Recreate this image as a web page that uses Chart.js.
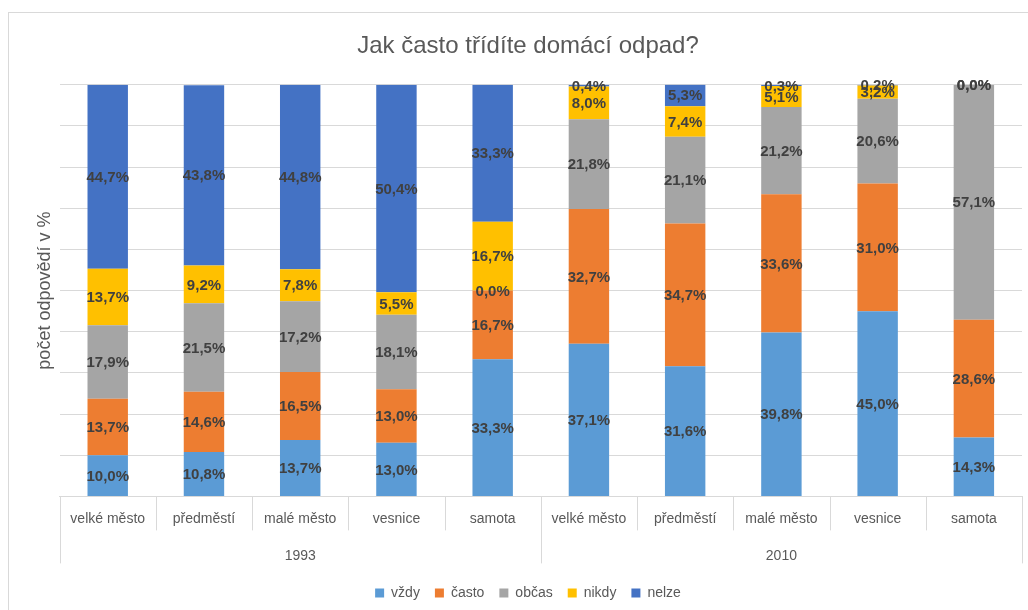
<!DOCTYPE html>
<html>
<head>
<meta charset="utf-8">
<script src="https://cdn.jsdelivr.net/npm/chart.js@4.4.1/dist/chart.umd.min.js"></script>
<style>
  html, body { margin: 0; padding: 0; background: #fff; }
  #wrap { position: absolute; left: 0; top: 0; width: 1028px; height: 610px; }
</style>
</head>
<body>
<div id="wrap"><canvas id="c" width="1028" height="610"></canvas></div>
<script>
const categories = ['velké město', 'předměstí', 'malé město', 'vesnice', 'samota',
                    'velké město', 'předměstí', 'malé město', 'vesnice', 'samota'];
const groups = ['1993', '2010'];
const groupSize = 5;
const seriesNames = ['vždy', 'často', 'občas', 'nikdy', 'nelze'];
const vzdy  = [10.0, 10.8, 13.7, 13.0, 33.3, 37.1, 31.6, 39.8, 45.0, 14.3];
const casto = [13.7, 14.6, 16.5, 13.0, 16.7, 32.7, 34.7, 33.6, 31.0, 28.6];
const obcas = [17.9, 21.5, 17.2, 18.1, 0.0, 21.8, 21.1, 21.2, 20.6, 57.1];
const nikdy = [13.7, 9.2, 7.8, 5.5, 16.7, 8.0, 7.4, 5.1, 3.2, 0.0];
const nelze = [44.7, 43.8, 44.8, 50.4, 33.3, 0.4, 5.3, 0.3, 0.2, 0.0];
const colors = ['#5B9BD5', '#ED7D31', '#A5A5A5', '#FFC000', '#4472C4'];

const FONT = "'Liberation Sans', Arial, sans-serif";
const TXT = '#595959';
const GRID = '#d9d9d9';

const seriesValues = [vzdy, casto, obcas, nikdy, nelze];

const frame = {
  id: 'frame',
  beforeDraw(chart) {
    const ctx = chart.ctx;
    ctx.save();
    ctx.strokeStyle = GRID;
    ctx.lineWidth = 1;
    ctx.strokeRect(8.5, 12.5, 1040, 620);
    ctx.restore();
  }
};

// category / group separator lines of the two-level axis
const separators = {
  id: 'separators',
  afterDraw(chart) {
    const xs = chart.scales.x;
    const ctx = chart.ctx;
    const n = categories.length;
    const step = (xs.right - xs.left) / n;
    const innerLen = 34, groupLen = 67;
    ctx.save();
    ctx.strokeStyle = GRID;
    ctx.lineWidth = 1;
    for (let i = 0; i <= n; i++) {
      const px = Math.round(xs.left + i * step) + 0.5;
      const isGroup = (i % groupSize === 0);
      ctx.beginPath();
      ctx.moveTo(px, xs.top);
      ctx.lineTo(px, xs.top + (isGroup ? groupLen : innerLen));
      ctx.stroke();
    }
    ctx.restore();
  }
};

const labels = {
  id: 'barLabels',
  afterDatasetsDraw(chart) {
    const ctx = chart.ctx;
    ctx.save();
    ctx.font = "bold 15px " + FONT;
    ctx.fillStyle = '#404040';
    ctx.textAlign = 'center';
    ctx.textBaseline = 'middle';
    chart.data.datasets.forEach((ds, di) => {
      const meta = chart.getDatasetMeta(di);
      meta.data.forEach((el, i) => {
        const v = ds.data[i];
        const y = (el.y + el.base) / 2;
        ctx.fillText(v.toFixed(1).replace('.', ',') + '%', el.x, y + 1);
      });
    });
    ctx.restore();
  }
};

new Chart(document.getElementById('c'), {
  type: 'bar',
  data: {
    labels: categories,
    datasets: seriesNames.map((n, i) => ({
      label: n,
      data: seriesValues[i],
      backgroundColor: colors[i],
      borderWidth: 0,
      barPercentage: 0.42,
      categoryPercentage: 1.0,
      xAxisID: 'x'
    }))
  },
  options: {
    responsive: false,
    animation: false,
    layout: { padding: { left: 34, right: 6, top: 18, bottom: 0 } },
    plugins: {
      title: {
        display: true,
        text: 'Jak často třídíte domácí odpad?',
        color: TXT,
        font: { family: FONT, size: 24, weight: 'normal' },
        padding: { top: 14, bottom: 24 }
      },
      legend: {
        position: 'bottom',
        labels: {
          color: TXT,
          font: { family: FONT, size: 14 },
          boxWidth: 9, boxHeight: 9,
          padding: 15
        }
      },
      tooltip: { enabled: false }
    },
    scales: {
      x: {
        stacked: true,
        position: 'bottom',
        offset: true,
        grid: { display: false },
        border: { display: true, color: GRID },
        ticks: { color: TXT, font: { family: FONT, size: 14 }, padding: 6, maxRotation: 0, autoSkip: false }
      },
      x2: {
        type: 'category',
        labels: groups,
        position: 'bottom',
        offset: true,
        grid: { display: false },
        border: { display: false },
        ticks: { color: TXT, font: { family: FONT, size: 14, lineHeight: 2.13 }, padding: 0, maxRotation: 0 }
      },
      y: {
        stacked: true,
        min: 0, max: 100,
        ticks: { display: false, stepSize: 10 },
        grid: { color: GRID, drawTicks: false },
        border: { display: false },
        title: {
          display: true,
          text: 'počet odpovědí v %',
          color: TXT,
          font: { family: FONT, size: 18 },
          padding: { top: 0, bottom: 4 }
        }
      }
    }
  },
  plugins: [frame, separators, labels]
});
</script>
</body>
</html>
